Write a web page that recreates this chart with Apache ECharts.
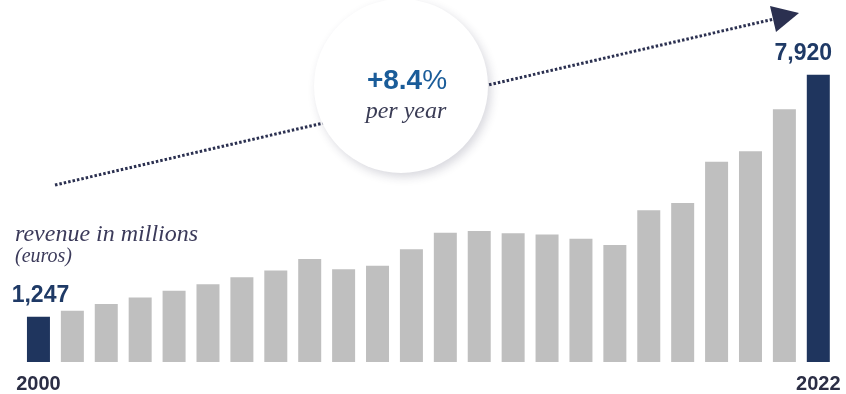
<!DOCTYPE html>
<html>
<head>
<meta charset="utf-8">
<script src="https://cdn.jsdelivr.net/npm/echarts@6/dist/echarts.min.js"></script>
<style>
  html, body { margin: 0; padding: 0; background: #fff; }
  #chart { width: 846px; height: 394px; }
</style>
</head>
<body>
<div id="chart"></div>
<script>
// revenue in millions (euros), one bar per year
const revenue = [1247, 1414, 1598, 1779, 1963, 2146, 2339, 2520, 2841, 2558, 2657, 3107,
                 3563, 3610, 3547, 3519, 3398, 3225, 4186, 4387, 5523, 5814, 6967, 7920];
// only the first and last bars carry a year label
const xTickLabels = ['2000', '', '', '', '', '', '', '', '', '', '', '',
                     '', '', '', '', '', '', '', '', '', '', '', '2022'];
const growthText = '+8.4';

const navy = '#1f355e';
const gray = '#bfbfbf';

var myChart = echarts.init(document.getElementById('chart'));
const last = revenue.length - 1;

const seriesData = revenue.map(function (v, i) {
    let item = { value: v };
    if (i === 0 || i === last) {
        item.itemStyle = { color: navy };
        item.label = {
            show: true,
            position: 'top',
            distance: 10,
            offset: i === last ? [-15, 0] : [2, 0],
            formatter: function (p) { return p.value.toLocaleString('en-US'); },
            color: '#1f3a66',
            fontFamily: 'Liberation Sans, Arial',
            fontWeight: 'bold',
            fontSize: 23
        };
    }
    return item;
});

var option = {
    animation: false,
    grid: { left: 21.5, right: 10.75, top: 35.6, bottom: 30.5 },
    xAxis: {
        type: 'category',
        data: xTickLabels.map(function (t, i) { return String(i); }),
        axisLine: { show: false },
        axisTick: { show: false },
        axisLabel: {
            interval: 0,
            margin: 12,
            formatter: function (v, i) { return xTickLabels[i]; },
            color: '#2b2e45',
            fontFamily: 'Liberation Sans, Arial',
            fontWeight: 'bold',
            fontSize: 20
        }
    },
    yAxis: {
        type: 'value',
        min: 0,
        max: 9000,
        show: false,
        splitLine: { show: false }
    },
    series: [{
        type: 'bar',
        barWidth: 23,
        data: seriesData,
        itemStyle: { color: gray }
    }],
    graphic: [
        {
            type: 'line',
            z: 10,
            shape: { x1: 55, y1: 185, x2: 774, y2: 19 },
            style: { stroke: '#2b3050', lineWidth: 3, lineDash: [2.5, 2] }
        },
        {
            type: 'polygon',
            z: 10,
            shape: { points: [[770, 6], [799, 13], [776, 32]] },
            style: { fill: '#2b3050' }
        },
        {
            type: 'circle',
            z: 20,
            shape: { cx: 401, cy: 86, r: 87 },
            style: {
                fill: '#ffffff',
                shadowBlur: 10,
                shadowOffsetX: 3,
                shadowOffsetY: 4,
                shadowColor: 'rgba(40,40,70,0.18)'
            }
        },
        {
            type: 'text',
            z: 30,
            x: 407,
            y: 81,
            style: {
                text: '{b|' + growthText + '}{n|%}',
                align: 'center',
                verticalAlign: 'middle',
                rich: {
                    b: { fontFamily: 'Liberation Sans, Arial', fontWeight: 'bold', fontSize: 28, fill: '#1a5c99' },
                    n: { fontFamily: 'Liberation Sans, Arial', fontWeight: 'normal', fontSize: 28, fill: '#1a5c99' }
                }
            }
        },
        {
            type: 'text',
            z: 30,
            x: 406,
            y: 112,
            style: {
                text: 'per year',
                align: 'center',
                verticalAlign: 'middle',
                fontFamily: 'Liberation Serif, serif',
                fontStyle: 'italic',
                fontSize: 24,
                fill: '#3a3c55'
            }
        },
        {
            type: 'text',
            x: 15,
            y: 235,
            style: {
                text: 'revenue in millions',
                verticalAlign: 'middle',
                fontFamily: 'Liberation Serif, serif',
                fontStyle: 'italic',
                fontSize: 24,
                fill: '#3b3a5a'
            }
        },
        {
            type: 'text',
            x: 15,
            y: 257,
            style: {
                text: '(euros)',
                verticalAlign: 'middle',
                fontFamily: 'Liberation Serif, serif',
                fontStyle: 'italic',
                fontSize: 20,
                fill: '#3b3a5a'
            }
        }
    ]
};

option && myChart.setOption(option);
</script>
</body>
</html>
